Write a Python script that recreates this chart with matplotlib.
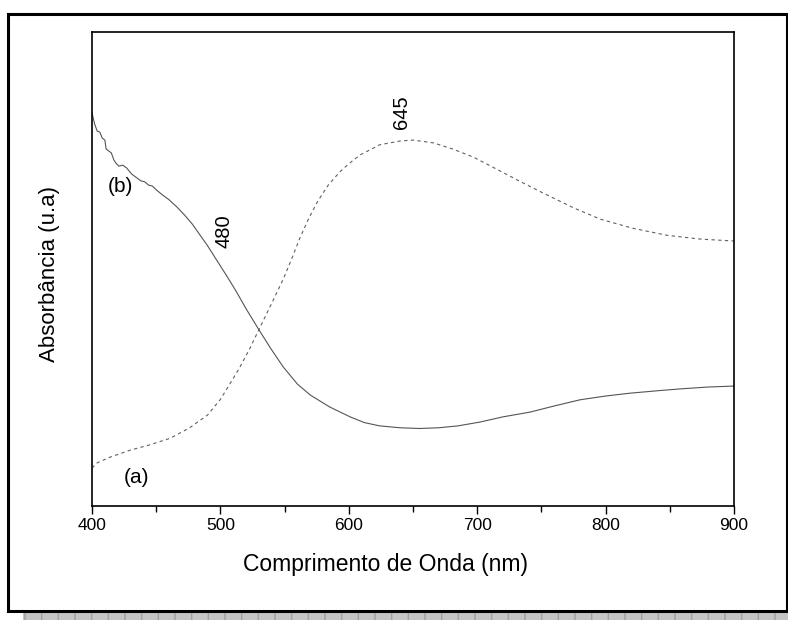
import matplotlib.pyplot as plt
from matplotlib.patches import Rectangle

plt.rcParams['font.family'] = ['Liberation Sans', 'DejaVu Sans']

# curva (a) - tracejada
wl_a = [400, 404, 414, 430, 445, 461, 476, 490, 500, 507, 515, 523, 531, 540, 549,
        556, 562, 569, 576, 584, 593, 600, 609, 624, 640, 650, 666, 681, 697, 712,
        731, 750, 775, 796, 821, 848, 874, 900]
abs_a = [0.080, 0.091, 0.103, 0.118, 0.129, 0.143, 0.165, 0.192, 0.225, 0.256, 0.292,
         0.333, 0.378, 0.428, 0.479, 0.525, 0.566, 0.608, 0.644, 0.677, 0.705, 0.722,
         0.741, 0.762, 0.770, 0.772, 0.766, 0.753, 0.736, 0.715, 0.688, 0.662, 0.629,
         0.605, 0.586, 0.571, 0.563, 0.559]

# curva (b) - continua
wl_b = [400, 402, 404, 406, 408, 410, 411, 413, 415, 417, 419, 421, 424, 427, 431,
        435, 438, 441, 444, 447, 450, 455, 460, 466, 472, 478, 484, 490, 497, 505,
        512, 520, 529, 539, 549, 560, 570, 585, 601, 612, 624, 640, 655, 670, 685,
        702, 720, 741, 760, 780, 800, 819, 840, 858, 880, 900]
abs_b = [0.829, 0.806, 0.791, 0.789, 0.776, 0.772, 0.753, 0.749, 0.745, 0.730, 0.722,
         0.717, 0.719, 0.713, 0.700, 0.692, 0.686, 0.684, 0.677, 0.675, 0.667, 0.656,
         0.646, 0.631, 0.614, 0.595, 0.572, 0.549, 0.519, 0.485, 0.454, 0.416, 0.376,
         0.333, 0.293, 0.257, 0.234, 0.209, 0.188, 0.176, 0.169, 0.165, 0.1635, 0.165,
         0.169, 0.177, 0.188, 0.198, 0.211, 0.224, 0.232, 0.238, 0.243, 0.247, 0.251,
         0.253]

fig = plt.figure(figsize=(7.88, 6.2), dpi=100)
ax = fig.add_axes([0.1168, 0.1839, 0.8147, 0.7645])

ax.plot(wl_a, abs_a, color='#606060', lw=0.8, dashes=(3, 3))
ax.plot(wl_b, abs_b, color='#555555', lw=0.8)

ax.set_xlim(400, 900)
ax.set_ylim(0, 1)
ax.set_xticks([400, 500, 600, 700, 800, 900])
ax.set_xticks([450, 550, 650, 750, 850], minor=True)
ax.set_yticks([])
ax.tick_params(axis='x', which='major', length=6, width=1, labelsize=12.5, pad=3)
ax.tick_params(axis='x', which='minor', length=4, width=1)
for s in ax.spines.values():
    s.set_linewidth(1.2)

ax.set_xlabel('Comprimento de Onda (nm)', fontsize=16.5)
ax.set_ylabel('Absorbância (u.a)', fontsize=16)
ax.xaxis.set_label_coords(0.457, -0.1245)
ax.yaxis.set_label_coords(-0.066, 0.49)
ax.xaxis.label.set_va('center')
ax.yaxis.label.set_va('center')

ax.text(422, 0.675, '(b)', fontsize=15, ha='center', va='center')
ax.text(435, 0.060, '(a)', fontsize=15, ha='center', va='center')
ax.text(503, 0.58, '480', fontsize=14.5, rotation=90, ha='center', va='center')
ax.text(641, 0.83, '645', fontsize=14.5, rotation=90, ha='center', va='center')

# moldura externa e sombra
fig.patches.append(Rectangle((23 / 788, 0), 765 / 788, 7 / 620, transform=fig.transFigure,
                             facecolor='#c4c4c4', edgecolor='#a0a0a0', hatch='|',
                             lw=0, zorder=0))
fig.patches.append(Rectangle((8 / 788, 9 / 620), 779 / 788, 597 / 620, transform=fig.transFigure,
                             fill=False, edgecolor='black', lw=2.2, zorder=1))

fig.savefig('out.png', dpi=100)
